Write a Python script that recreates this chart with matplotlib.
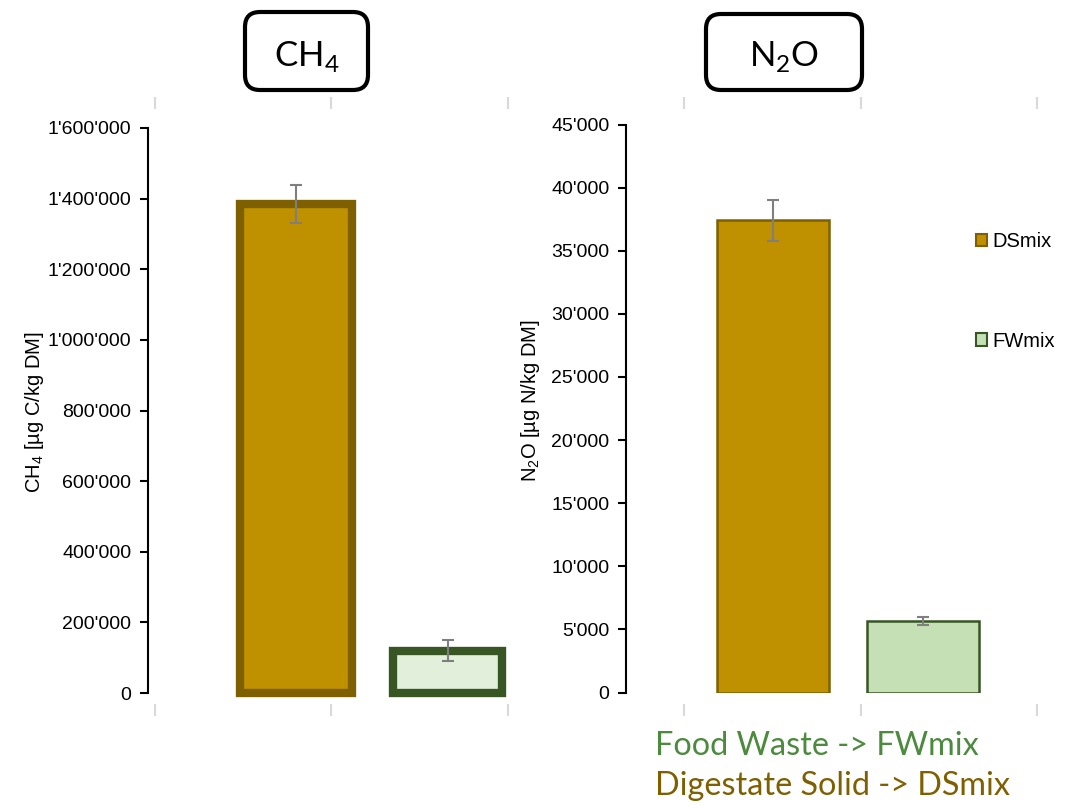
import matplotlib
matplotlib.use("Agg")
import matplotlib.pyplot as plt
import matplotlib.ticker as ticker
from matplotlib.patches import FancyBboxPatch, Patch

# Emission totals per mix (mean and error)
mixes = ["DSmix", "FWmix"]
ch4_mean = [1385000, 120000]
ch4_err = [53000, 29000]
n2o_mean = [37400, 5680]
n2o_err = [1600, 320]

ch4_ticks = [0, 200000, 400000, 600000, 800000, 1000000, 1200000, 1400000, 1600000]
n2o_ticks = [0, 5000, 10000, 15000, 20000, 25000, 30000, 35000, 40000, 45000]

DS_FILL, DS_EDGE = "#bf9000", "#7f6000"
FW_FILL_CH4, FW_FILL_N2O, FW_EDGE = "#e2efda", "#c5e0b4", "#375623"
ERR_COLOR = "#7f7f7f"
TEXT_FONT = ["Liberation Sans", "DejaVu Sans"]
TITLE_FONT = ["Lato", "DejaVu Sans"]

W, H = 1069, 808
PT = 0.72  # points per pixel at dpi 100
fig = plt.figure(figsize=(W / 100, H / 100), dpi=100)


def add_axes_px(left, top, right, bottom):
    return fig.add_axes([left / W, 1 - bottom / H, (right - left) / W, (bottom - top) / H])


def apostrophe_fmt(v, _):
    return f"{int(round(v)):,}".replace(",", "'")


ax1 = add_axes_px(148, 128, 520, 693)
ax2 = add_axes_px(626, 124.5, 1045, 692.5)

# CH4 panel: heavy outlines
ax1.bar(0.80, ch4_mean[0], width=0.635, color=DS_FILL, edgecolor=DS_EDGE, linewidth=6, clip_on=False)
ax1.bar(1.66, ch4_mean[1], width=0.62, color=FW_FILL_CH4, edgecolor=FW_EDGE, linewidth=6, clip_on=False)
ax1.errorbar([0.80, 1.66], ch4_mean, yerr=ch4_err, fmt="none", ecolor=ERR_COLOR,
             elinewidth=1.5, capsize=4.5, capthick=1.5, zorder=5)
ax1.set_xlim(-0.04, 2.07)
ax1.set_ylim(0, 1600000)
ax1.set_yticks(ch4_ticks)
ax1.set_xticks([0, 1, 2])

# N2O panel: thin outlines
ax2.bar(1.503, n2o_mean[0], width=0.63, color=DS_FILL, edgecolor=DS_EDGE, linewidth=1.8)
ax2.bar(2.354, n2o_mean[1], width=0.63, color=FW_FILL_N2O, edgecolor=FW_EDGE, linewidth=1.8)
ax2.errorbar([1.503, 2.354], n2o_mean, yerr=n2o_err, fmt="none", ecolor=ERR_COLOR,
             elinewidth=1.5, capsize=4.5, capthick=1.5, zorder=5)
ax2.set_xlim(0.669, 3.046)
ax2.set_ylim(0, 45000)
ax2.set_yticks(n2o_ticks)
ax2.set_xticks([1, 2, 3])

for ax, top_out in [(ax1, 25), (ax2, 21.5)]:
    ax.yaxis.set_major_formatter(ticker.FuncFormatter(apostrophe_fmt))
    ax.spines["right"].set_visible(False)
    ax.spines["left"].set_linewidth(1.5)
    ax.spines["bottom"].set_position(("outward", 17 * PT))
    ax.spines["top"].set_position(("outward", top_out * PT))
    ax.spines["bottom"].set_visible(False)
    ax.spines["top"].set_visible(False)
    ax.tick_params(axis="y", direction="out", length=6, width=1.5, pad=6, labelsize=14)
    ax.tick_params(axis="x", top=True, bottom=True, direction="inout", length=8, width=1.5,
                   color="#d9d9d9", labelbottom=False, labeltop=False)
    for lbl in ax.get_yticklabels():
        lbl.set_family(TEXT_FONT)

fig.text(35 / W, 1 - 412 / H, r"CH$_{\mathregular{4}}$ [µg C/kg DM]", rotation=90,
         ha="center", va="center", fontsize=14.5, family=TEXT_FONT)
fig.text(531 / W, 1 - 401 / H, r"N$_{\mathregular{2}}$O [µg N/kg DM]", rotation=90,
         ha="center", va="center", fontsize=14.5, family=TEXT_FONT)

# Legend on the right of the N2O panel
handles = [Patch(facecolor=DS_FILL, edgecolor=DS_EDGE, linewidth=1.5, label=mixes[0]),
           Patch(facecolor=FW_FILL_N2O, edgecolor=FW_EDGE, linewidth=1.5, label=mixes[1])]
fig.legend(handles=handles, loc="upper left", bbox_to_anchor=(966 / W, 1 - 222 / H),
           frameon=False, borderpad=0, handlelength=0.55, handleheight=0.55,
           handletextpad=0.25, labelspacing=4.0, prop={"family": TEXT_FONT, "size": 14.5})

# Gas title boxes
for (x0, y0, x1, y1), label in [((245, 12, 368, 90), r"CH$_{\mathregular{4}}$"),
                                ((706, 14, 862, 90), r"N$_{\mathregular{2}}$O")]:
    box = FancyBboxPatch((x0 / 100, (H - y1) / 100), (x1 - x0) / 100, (y1 - y0) / 100,
                         boxstyle="round,pad=0,rounding_size=0.15", transform=fig.dpi_scale_trans,
                         facecolor="white", edgecolor="black", linewidth=3)
    fig.patches.append(box)
    fig.text((x0 + x1) / 2 / W, 1 - 66 / H, label, ha="center", va="baseline",
             fontsize=25, family=TITLE_FONT)

fig.text(655 / W, 1 - 755 / H, "Food Waste -> FWmix", ha="left", va="baseline",
         fontsize=23.3, color="#4c8a3e", family=TITLE_FONT)
fig.text(655 / W, 1 - 795 / H, "Digestate Solid -> DSmix", ha="left", va="baseline",
         fontsize=23.3, color="#7f6000", family=TITLE_FONT)

fig.savefig("out.png", dpi=100)
plt.close(fig)
